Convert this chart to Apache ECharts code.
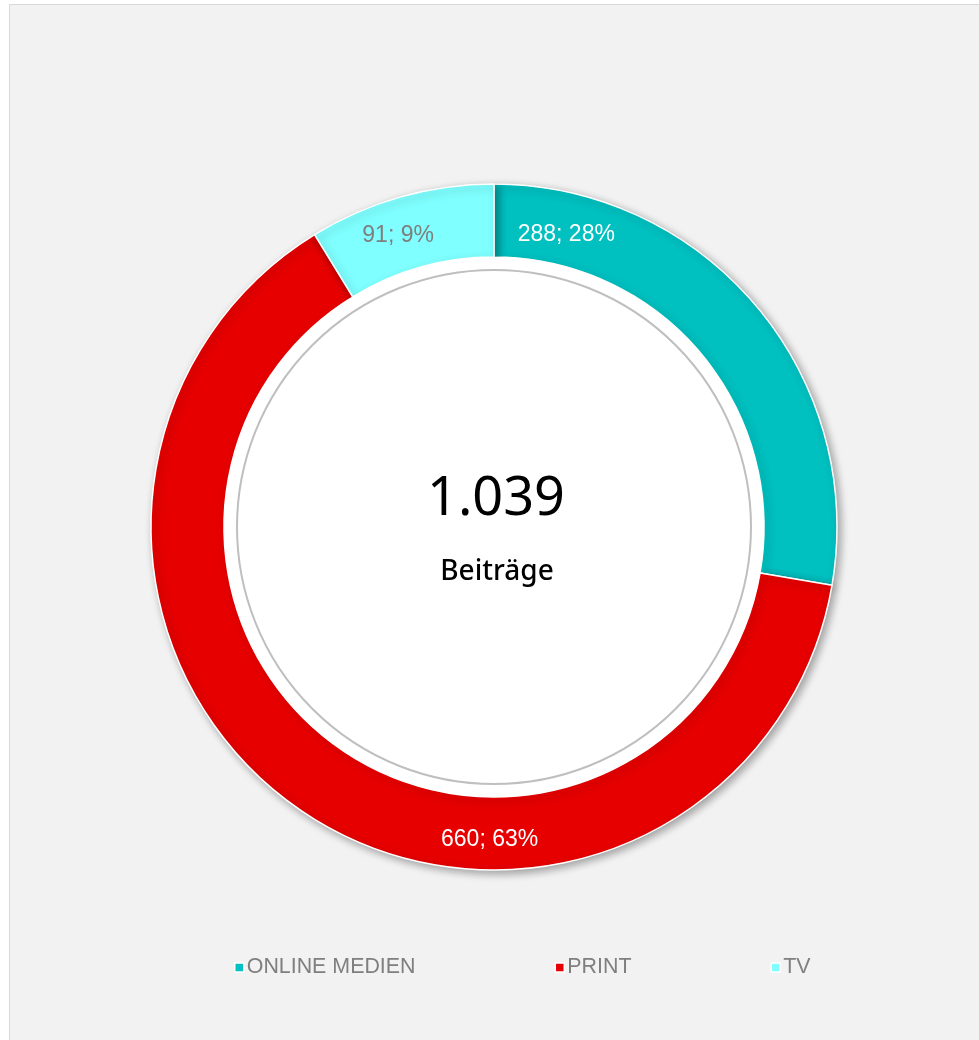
<!DOCTYPE html>
<html lang="de">
<head>
    <meta charset="UTF-8">
    <script src="https://cdn.jsdelivr.net/npm/echarts@6.0.0/dist/echarts.min.js"></script>
    <style type="text/css">
        body { margin: 0; background: #ffffff; overflow: hidden; }
        .frame {
            position: absolute;
            left: 9px;
            top: 4px;
            width: 1000px;
            height: 1100px;
            background: #f2f2f2;
            border: 1px solid #d9d9d9;
        }
        #chart {
            position: absolute;
            left: 0;
            top: 0;
            width: 979px;
            height: 1040px;
        }
    </style>
    <title>Beiträge</title>
</head>
<body>
    <div class="frame"></div>
    <div id="chart"></div>
    <script>
        // Daten
        var categories = ['ONLINE MEDIEN', 'PRINT', 'TV'];
        var values = [288, 660, 91];
        var percentLabels = ['28%', '63%', '9%'];
        var colors = ['#00c0c0', '#e60000', '#7fffff'];
        var labelColors = ['#ffffff', '#ffffff', '#7f7f7f'];
        var centerCaption = 'Beiträge';

        var total = values.reduce(function (a, b) { return a + b; }, 0);
        var totalText = total.toLocaleString('de-DE');

        // wo die Beschriftungen sitzen (Winkel im Uhrzeigersinn ab oben, Abstand zur Mitte)
        var labelSpots = [[13.9, 301], [180.8, 313], [-18.2, 307]];
        var cx = 494, cy = 527;

        var chart = echarts.init(document.getElementById('chart'));

        var option = {
            backgroundColor: 'transparent',
            animation: false,
            title: [
                {
                    text: totalText,
                    left: cx - 3,
                    top: 468,
                    textAlign: 'center',
                    textStyle: { fontFamily: 'Noto Sans', fontSize: 54, fontWeight: 'normal', color: '#000000' }
                },
                {
                    text: centerCaption,
                    left: cx - 2,
                    top: 553,
                    textAlign: 'center',
                    textStyle: { fontFamily: 'Noto Sans', fontSize: 28, fontWeight: 500, color: '#000000' }
                }
            ],
            legend: {
                data: categories,
                left: 234,
                top: 957,
                padding: 0,
                icon: 'rect',
                itemWidth: 9,
                itemHeight: 9,
                itemGap: 139,
                itemStyle: { borderColor: '#ffffff', borderWidth: 1.5 },
                textStyle: { fontFamily: 'Liberation Sans', fontSize: 21.4, color: '#7f7f7f', padding: [0, 0, 0, -2] }
            },
            series: [
                {
                    type: 'pie',
                    center: [cx, cy],
                    radius: [270, 343],
                    startAngle: 90,
                    clockwise: true,
                    avoidLabelOverlap: false,
                    itemStyle: {
                        borderColor: '#ffffff',
                        borderWidth: 1.5,
                        shadowBlur: 8,
                        shadowOffsetX: 3,
                        shadowOffsetY: 3,
                        shadowColor: 'rgba(0,0,0,0.35)'
                    },
                    label: {
                        show: true,
                        position: 'inside',
                        fontFamily: 'Liberation Sans',
                        fontSize: 23,
                        formatter: function (p) {
                            return p.value + '; ' + percentLabels[p.dataIndex];
                        }
                    },
                    labelLine: { show: false },
                    labelLayout: function (params) {
                        var s = labelSpots[params.dataIndex];
                        var a = s[0] * Math.PI / 180;
                        return {
                            x: cx + s[1] * Math.sin(a),
                            y: cy - s[1] * Math.cos(a),
                            align: 'center',
                            verticalAlign: 'middle'
                        };
                    },
                    data: categories.map(function (name, i) {
                        return {
                            name: name,
                            value: values[i],
                            itemStyle: { color: colors[i] },
                            label: { color: labelColors[i] }
                        };
                    }),
                    z: 1
                },
                {
                    // weiße Fläche innen, deckt den Schatten am Innenrand ab
                    type: 'pie',
                    center: [cx, cy],
                    radius: [0, 270],
                    silent: true,
                    label: { show: false },
                    itemStyle: { color: '#ffffff' },
                    data: [{ value: 1, name: '' }],
                    z: 4
                },
                {
                    // grauer Kreis
                    type: 'pie',
                    center: [cx, cy],
                    radius: [0, 257],
                    silent: true,
                    label: { show: false },
                    itemStyle: { color: '#ffffff', borderColor: '#bfbfbf', borderWidth: 2 },
                    data: [{ value: 1, name: '' }],
                    z: 5
                }
            ]
        };

        chart.setOption(option);
    </script>
</body>
</html>
